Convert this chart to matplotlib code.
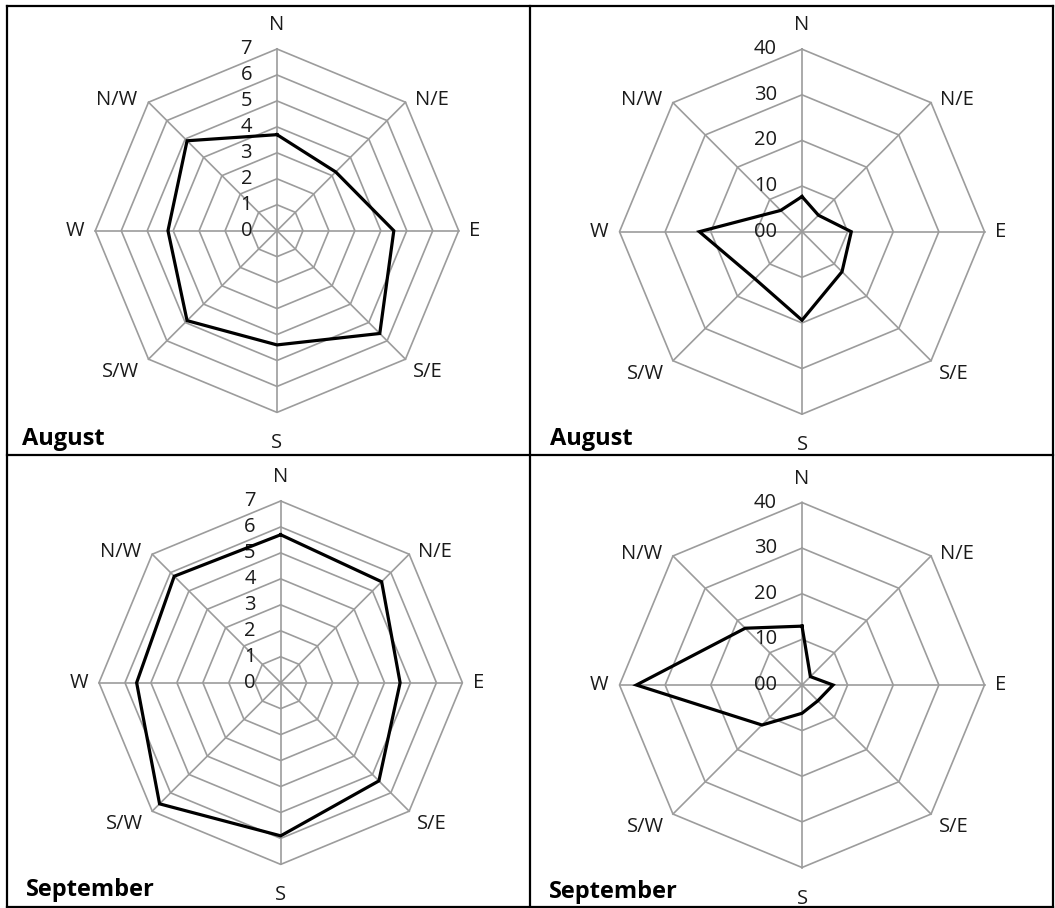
import numpy as np
import matplotlib
matplotlib.use("Agg")
import matplotlib.pyplot as plt
from matplotlib.lines import Line2D

plt.rcParams['font.family'] = ['Open Sans', 'DejaVu Sans']

# datos
direcciones = ['N', 'N/E', 'E', 'S/E', 'S', 'S/W', 'W', 'N/W']
agosto_velocidad = [3.7, 3.2, 4.5, 5.6, 4.4, 4.9, 4.2, 4.9]
agosto_direccion = [7.7, 5.1, 10.8, 12.4, 19.4, 14.6, 22.5, 6.6]
septiembre_velocidad = [5.7, 5.5, 4.6, 5.35, 5.9, 6.6, 5.55, 5.8]
septiembre_direccion = [12.9, 2.6, 6.8, 4.9, 6.2, 12.4, 36.3, 17.6]
meses = ['August', 'September']

W_PX, H_PX = 1055, 908
fig = plt.figure(figsize=(W_PX / 100, H_PX / 100), dpi=100)

GRIS = '#9c9c9c'
TEXTO = '#1a1a1a'

# posicion de las etiquetas de direccion (en unidades del radio)
pos_etiquetas = [(0, 1.13), (0.85, 0.72), (1.09, 0), (0.83, -0.78),
                 (0, -1.17), (-0.86, -0.78), (-1.11, 0), (-0.88, 0.72)]


def radar(cx, cy, R, valores, vmax, paso, fmt):
    L = 1.35
    ax = fig.add_axes([(cx - L * R) / W_PX, 1 - (cy + L * R) / H_PX,
                       2 * L * R / W_PX, 2 * L * R / H_PX])
    ax.set_xlim(-L, L)
    ax.set_ylim(-L, L)
    ax.axis('off')

    ang = np.arange(len(direcciones)) * 2 * np.pi / len(direcciones)
    sx = np.append(np.sin(ang), np.sin(ang[0]))
    sy = np.append(np.cos(ang), np.cos(ang[0]))

    # anillos y radios
    for r in np.arange(paso, vmax + paso / 2, paso):
        ax.plot(sx * r / vmax, sy * r / vmax, color=GRIS, lw=1.2, zorder=1)
    for x, y in zip(sx[:-1], sy[:-1]):
        ax.plot([0, x], [0, y], color=GRIS, lw=1.2, zorder=1)

    # serie
    v = np.append(valores, valores[0]) / vmax
    ax.plot(sx * v, sy * v, color='black', lw=2.3, zorder=3,
            solid_joinstyle='miter')

    # etiquetas del eje
    for t in np.arange(0, vmax + paso / 2, paso):
        ax.text(-25 / R, t / vmax, fmt.format(int(t)), ha='right', va='center',
                fontsize=14.5, color=TEXTO, zorder=2)
    for nombre, (px, py) in zip(direcciones, pos_etiquetas):
        ax.text(px, py, nombre, ha='center', va='center', fontsize=14.5,
                color=TEXTO)
    return ax


radar(277, 230.7, 181.7, agosto_velocidad, 7, 1, '{:d}')
radar(802, 231.7, 182.5, agosto_direccion, 40, 10, '{:02d}')
radar(280.7, 682.7, 181.7, septiembre_velocidad, 7, 1, '{:d}')
radar(802, 685, 182.5, septiembre_direccion, 40, 10, '{:02d}')

# titulos de cada celda
for (x, y), mes in zip([(22, 439), (550, 439), (26, 890), (549, 892)],
                       [meses[0], meses[0], meses[1], meses[1]]):
    fig.text(x / W_PX, 1 - y / H_PX, mes, ha='left', va='center',
             fontsize=17, fontweight='bold', color='black')

# bordes de la tabla
xs = [7, 530, 1052.5]
ys = [6, 455, 906.5]
for x in xs:
    fig.add_artist(Line2D([x / W_PX] * 2, [1 - ys[0] / H_PX, 1 - ys[-1] / H_PX],
                          transform=fig.transFigure, color='black', lw=1.6))
for y in ys:
    fig.add_artist(Line2D([xs[0] / W_PX, xs[-1] / W_PX], [1 - y / H_PX] * 2,
                          transform=fig.transFigure, color='black', lw=1.6))

fig.savefig('out.png', dpi=100, facecolor='white')
